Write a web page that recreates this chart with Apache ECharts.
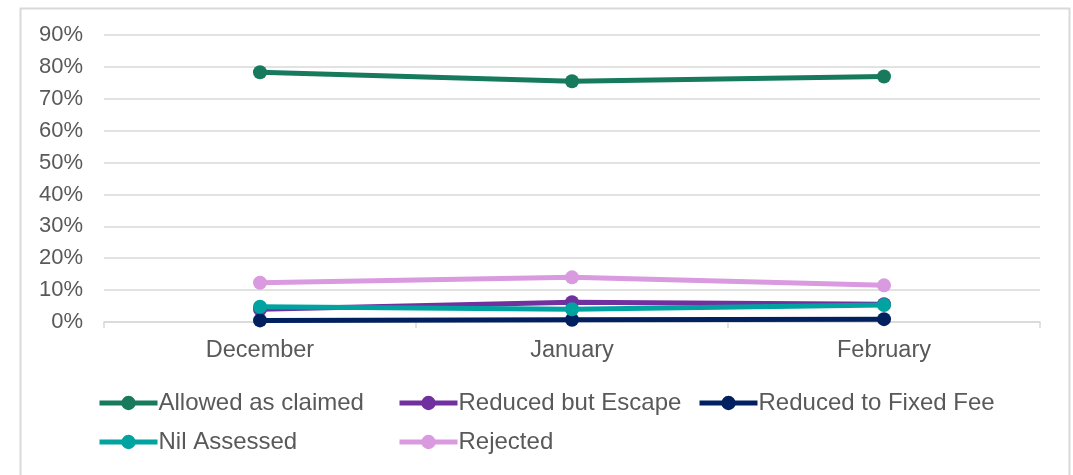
<html>
    <head>
        <meta charset="UTF-8">
    </head>
    <body style="margin:0">
        <div id="container" style="width: 1073px;height: 475px"></div>
        <script type="text/javascript" src="https://cdn.jsdelivr.net/npm/echarts@6/dist/echarts.min.js"></script>
        <script type="text/javascript">
        // months and shares (%)
        var months = ["December", "January", "February"];
        var allowedAsClaimed = [78.3, 75.5, 77.0];
        var reducedButEscape = [4.0, 6.2, 5.6];
        var reducedToFixedFee = [0.5, 0.7, 0.9];
        var nilAssessed = [4.8, 4.0, 5.3];
        var rejected = [12.3, 14.0, 11.5];

        var names = ["Allowed as claimed", "Reduced but Escape", "Reduced to Fixed Fee", "Nil Assessed", "Rejected"];
        var colours = ["#177A5C", "#7030A0", "#002060", "#00A3A0", "#DA9ADF"];
        var values = [allowedAsClaimed, reducedButEscape, reducedToFixedFee, nilAssessed, rejected];

        var myChart = echarts.init(document.getElementById("container"));
        var font = "Liberation Sans, Arial";

        function legendCol(items, left){
            return {
                orient: "vertical",
                left: left,
                top: 386,
                itemWidth: 58,
                itemHeight: 18,
                itemGap: 15,
                lineStyle: {width: 5},
                textStyle: {color: "#595959", fontFamily: font, fontSize: 24, padding: [0, 0, 0, -4]},
                data: items
            };
        }

        var series = [];
        for(var i = 0; i < names.length; i++){
            series.push({
                name: names[i],
                type: "line",
                data: values[i],
                symbol: "circle",
                symbolSize: 14,
                color: colours[i],
                lineStyle: {width: 5, color: colours[i]},
                itemStyle: {color: colours[i]},
                z: i == 3 ? 5 : 2
            });
        }

        var option = {
            animation: false,
            graphic: [{
                type: "rect",
                left: 18, top: 6,
                shape: {width: 1049, height: 490},
                style: {fill: "none", stroke: "#d9d9d9", lineWidth: 2}
            }],
            grid: {left: 104, right: 33, top: 35, bottom: 153},
            legend: [
                legendCol(["Allowed as claimed", "Nil Assessed"], 92),
                legendCol(["Reduced but Escape", "Rejected"], 392),
                legendCol(["Reduced to Fixed Fee"], 692)
            ],
            xAxis: {
                type: "category",
                data: months,
                boundaryGap: true,
                axisLine: {lineStyle: {color: "#d9d9d9", width: 1.5}},
                axisTick: {show: true, length: 6, lineStyle: {color: "#d9d9d9", width: 1.5}},
                axisLabel: {color: "#595959", fontFamily: font, fontSize: 23.5, margin: 17}
            },
            yAxis: {
                type: "value",
                min: 0,
                max: 90,
                interval: 10,
                axisLine: {show: false},
                axisTick: {show: false},
                splitLine: {lineStyle: {color: "#d9d9d9", width: 1.5}},
                axisLabel: {color: "#595959", fontFamily: font, fontSize: 22, margin: 21, formatter: "{value}%"}
            },
            series: series
        };
        myChart.setOption(option);
        </script>
    </body>
</html>
